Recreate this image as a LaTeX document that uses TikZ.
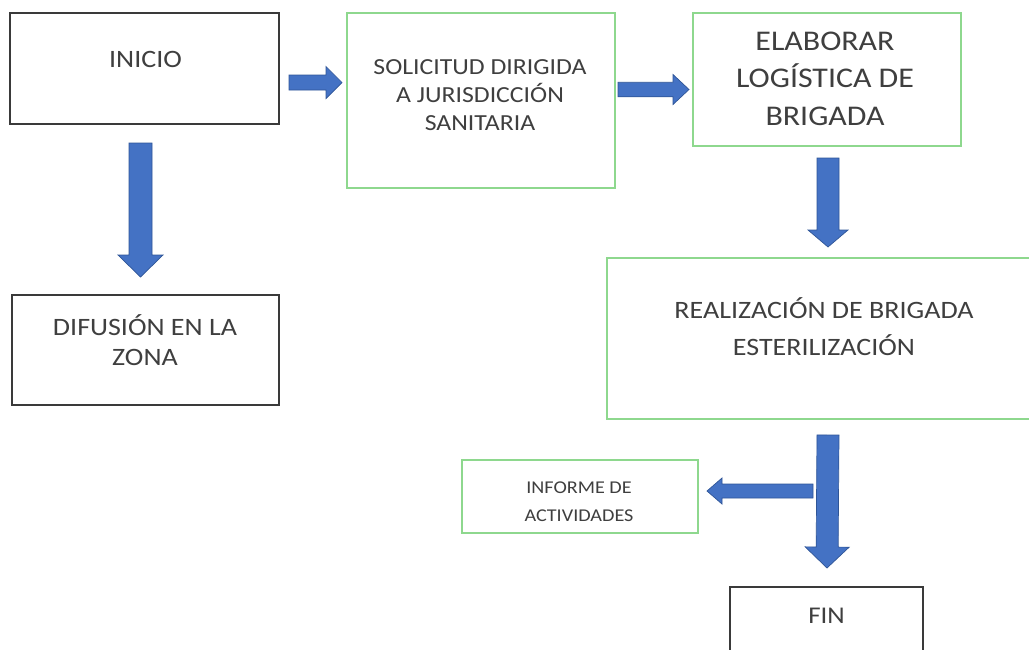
\documentclass[tikz,border=0pt]{standalone}
\usepackage{fontspec}
\setmainfont{Carlito}
\usepackage{graphicx}
\usetikzlibrary{calc}
\definecolor{txtc}{HTML}{3F3F3F}
\definecolor{dkc}{HTML}{3A3A3A}
\definecolor{grc}{HTML}{8ED88E}
\definecolor{blc}{HTML}{4472C4}
\definecolor{bldc}{HTML}{2F5597}
\newcommand\TX[3]{\scalebox{1.12}[1]{\fontsize{#1}{#2}\selectfont\begin{tabular}{@{}c@{}}#3\end{tabular}}}
\tikzset{
  dkbox/.style={draw=dkc, line width=1.8pt, inner sep=0pt, outer sep=0pt},
  grbox/.style={draw=grc, line width=1.4pt, inner sep=0pt, outer sep=0pt},
  lbl/.style={inner sep=0pt, outer sep=0pt, text=txtc},
  barrow/.style n args={3}{draw=bldc, fill=blc, line width=0.7pt, line join=miter,
    to path={let \p1=(\tikztostart), \p2=(\tikztotarget),
      \n1={veclen(\x2-\x1,\y2-\y1)}, \n2={(\x2-\x1)/\n1}, \n3={(\y2-\y1)/\n1} in
      ({\x1-\n3*#1/2},{\y1+\n2*#1/2})
      -- ({\x2-\n2*#3-\n3*#1/2},{\y2-\n3*#3+\n2*#1/2})
      -- ({\x2-\n2*#3-\n3*#2/2},{\y2-\n3*#3+\n2*#2/2})
      -- (\p2)
      -- ({\x2-\n2*#3+\n3*#2/2},{\y2-\n3*#3-\n2*#2/2})
      -- ({\x2-\n2*#3+\n3*#1/2},{\y2-\n3*#3-\n2*#1/2})
      -- ({\x1+\n3*#1/2},{\y1-\n2*#1/2}) -- cycle}}
}
\begin{document}
\begin{tikzpicture}[x=1pt,y=-1pt]
\useasboundingbox (0,0) rectangle (1029,649);
\clip (0,0) rectangle (1029,649);
\fill[white] (0,0) rectangle (1029,649);
% boxes
\node[dkbox, minimum width=269pt, minimum height=111pt] (ini) at (144.5,68.5) {};
\node[grbox, minimum width=268pt, minimum height=175pt] (sol) at (481,100.5) {};
\node[grbox, minimum width=268pt, minimum height=133pt] (ela) at (827,79.5) {};
\node[grbox, minimum width=438pt, minimum height=161pt] (rea) at (826,338.5) {};
\node[dkbox, minimum width=267pt, minimum height=110pt] (dif) at (145.5,350) {};
\node[grbox, minimum width=236pt, minimum height=73pt] (inf) at (580,496.5) {};
\node[dkbox, minimum width=193pt, minimum height=83pt] (fin) at (826.5,628.5) {};
% texts
\node[lbl] (tini) at (145.5,61.5) {\TX{25}{30}{INICIO}};
\node[lbl] (tsol) at (480,96.5) {\TX{23}{28}{SOLICITUD DIRIGIDA\\A JURISDICCIÓN\\SANITARIA}};
\node[lbl] (tela) at (825,80) {\TX{28.5}{37.5}{ELABORAR\\LOGÍSTICA DE\\BRIGADA}};
\node[lbl] (trea) at (824,329.5) {\TX{25}{37}{REALIZACIÓN DE BRIGADA\\ESTERILIZACIÓN}};
\node[lbl] (tdif) at (145,344.5) {\TX{25}{30}{DIFUSIÓN EN LA\\ZONA}};
\node[lbl] (tinf) at (579,502) {\TX{18}{28}{INFORME DE\\ACTIVIDADES}};
\node[lbl] (tfin) at (826.5,617.5) {\TX{24}{29}{FIN}};
% arrows
\draw[barrow={15pt}{32pt}{16pt}] ([shift={(10,14)}]ini.east) to ([shift={(-5,-18)}]sol.west);
\draw[barrow={14.5pt}{30pt}{16pt}] ([shift={(3,-11)}]sol.east) to ([shift={(-4,10)}]ela.west);
\draw[barrow={22pt}{40pt}{17pt}] ([shift={(1,12)}]ela.south) to ([shift={(2,-11)}]rea.north);
\draw[barrow={23pt}{45pt}{22pt}] ([shift={(-4,19)}]ini.south) to ([shift={(-5,-18)}]dif.north);
\coordinate (br) at ([shift={(-13,72)}]rea.south);
\draw[barrow={14pt}{26pt}{15pt}] (br) to ([shift={(9,-5.5)}]inf.east);
\draw[barrow={22pt}{44pt}{21pt}] ([shift={(2,16)}]rea.south) to ([shift={(0.5,-19)}]fin.north);
\end{tikzpicture}
\end{document}
